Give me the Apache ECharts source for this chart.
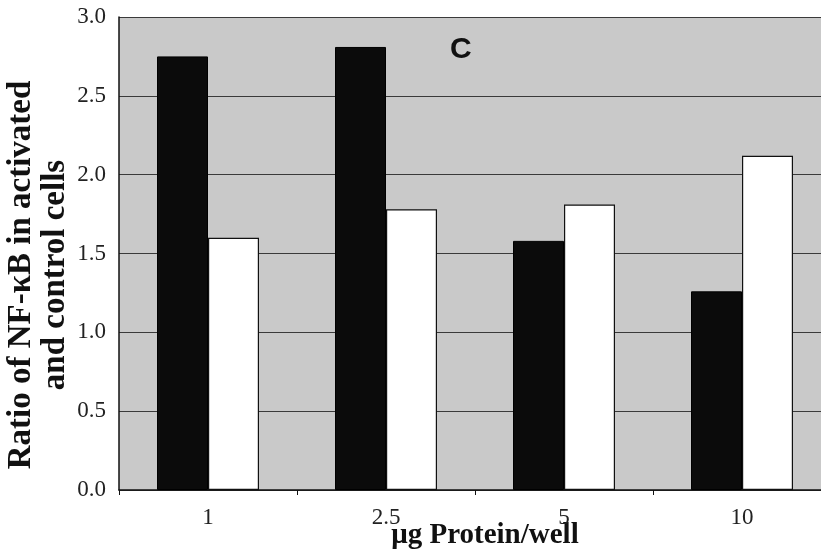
<!DOCTYPE html>
<html>
<head>
<meta charset="utf-8">
<script src="https://cdn.jsdelivr.net/npm/echarts@6/dist/echarts.min.js"></script>
<style>html,body{margin:0;padding:0;background:#fff}#c{width:821px;height:555px}</style>
</head>
<body>
<div id="c"></div>
<script>
const categories = ['1', '2.5', '5', '10'];
const activated = [2.75, 2.81, 1.58, 1.26];
const control = [1.60, 1.78, 1.81, 2.12];
const yTicks = [0, 0.5, 1.0, 1.5, 2.0, 2.5, 3.0];

const chart = echarts.init(document.getElementById('c'), null, {renderer: 'canvas'});
const serif = 'Liberation Serif, Times New Roman, serif';
chart.setOption({
  animation: false,
  backgroundColor: '#ffffff',
  title: {
    text: 'C', left: 445, top: 30,
    textStyle: {fontFamily: 'Liberation Sans, Arial, sans-serif', fontWeight: 'bold', fontSize: 30, color: '#111'}
  },
  grid: {left: 119, top: 17, right: -10, bottom: 65, outerBoundsMode: 'none', containLabel: false,
         show: true, backgroundColor: '#c9c9c9', borderWidth: 0},
  xAxis: {
    type: 'category',
    data: categories,
    name: 'μg Protein/well',
    nameLocation: 'middle',
    nameMoveOverlap: false,
    nameGap: 31,
    nameTextStyle: {fontFamily: serif, fontWeight: 'bold', fontSize: 29, color: '#111', padding: [0, 0, 0, 20]},
    axisLine: {lineStyle: {color: '#111', width: 1.5}},
    axisTick: {show: true, length: 5, lineStyle: {color: '#111'}},
    axisLabel: {fontFamily: serif, fontSize: 23, color: '#222', margin: 16},
    splitLine: {show: false}
  },
  yAxis: {
    type: 'value',
    min: 0, max: 3, interval: 0.5,
    name: 'Ratio of NF-κB in activated\nand control cells',
    nameLocation: 'middle',
    nameMoveOverlap: false,
    nameGap: 47,
    nameTextStyle: {fontFamily: serif, fontWeight: 'bold', fontSize: 33, color: '#111', lineHeight: 34, padding: [0, 43, 0, 0]},
    axisLine: {show: true, lineStyle: {color: '#111', width: 1.5}},
    axisTick: {show: false},
    axisLabel: {fontFamily: serif, fontSize: 23, color: '#222', margin: 13,
      formatter: v => yTicks.includes(v) ? v.toFixed(1) : ''},
    splitLine: {show: true, lineStyle: {color: '#3a3a3a', width: 1.2}}
  },
  series: [
    {type: 'bar', name: 'activated', data: activated, barWidth: 51, barGap: '0%',
     itemStyle: {color: '#0b0b0b', borderColor: '#000', borderWidth: 1}},
    {type: 'bar', name: 'control', data: control, barWidth: 51, barGap: '0%',
     itemStyle: {color: '#ffffff', borderColor: '#111', borderWidth: 1.2}}
  ]
});
</script>
</body>
</html>
